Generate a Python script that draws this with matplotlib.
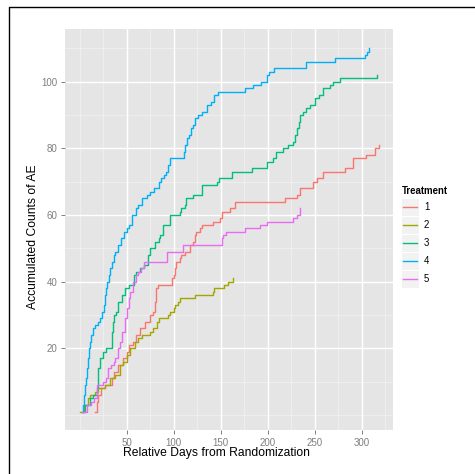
import matplotlib
matplotlib.use("Agg")
import matplotlib.pyplot as plt
from matplotlib.lines import Line2D
from matplotlib.patches import Rectangle

plt.rcParams['font.family'] = ['Liberation Sans', 'DejaVu Sans']

treatments = ["1", "2", "3", "4", "5"]
colors = ["#F8766D", "#A3A500", "#00BF7D", "#00B0F6", "#E76BF3"]

days1 = [16, 18, 20, 23, 27, 34, 37, 41, 46, 50, 53, 57, 60, 64, 69, 75, 78, 80, 81, 83,
         98, 100, 101, 103, 107, 108, 112, 117, 121, 123, 124, 128, 130, 142, 149, 151, 160,
         165, 218, 231, 234, 248, 252, 259, 282, 291, 305, 314, 318]
counts1 = [1, 4, 6, 8, 9, 11, 13, 15, 17, 19, 21, 22, 24, 26, 28, 30, 31, 34, 38, 39,
           41, 42, 44, 46, 47, 48, 49, 51, 52, 54, 55, 56, 57, 58, 59, 61, 62,
           64, 65, 66, 68, 70, 71, 73, 74, 77, 78, 80, 81]

days2 = [0, 5, 9, 11, 16, 20, 27, 32, 38, 43, 46, 50, 54, 59, 62, 66, 75, 78, 82, 84,
         94, 96, 100, 101, 105, 107, 123, 142, 143, 154, 158, 163]
counts2 = [1, 3, 5, 6, 7, 8, 9, 11, 12, 15, 16, 18, 20, 22, 23, 24, 25, 26, 28, 29,
           30, 31, 32, 33, 34, 35, 36, 37, 38, 39, 40, 41]

days3 = [4, 6, 11, 14, 18, 19, 20, 22, 25, 28, 34, 35, 36, 39, 41, 45, 48, 52, 58, 60,
         64, 68, 73, 75, 80, 84, 85, 89, 96, 107, 108, 112, 113, 121, 130, 146, 148, 162,
         183, 199, 206, 209, 216, 222, 227, 229, 231, 233, 234, 238, 241, 245, 250, 255,
         259, 266, 270, 277, 316]
counts3 = [1, 3, 5, 6, 8, 11, 14, 17, 19, 20, 25, 28, 30, 31, 34, 36, 38, 39, 42, 43,
           44, 45, 48, 50, 52, 53, 54, 57, 60, 61, 62, 63, 65, 66, 69, 70, 71, 73,
           74, 76, 77, 79, 80, 81, 82, 84, 86, 88, 90, 91, 92, 93, 95, 96,
           98, 99, 100, 101, 102]

days4 = [3, 4, 5, 6, 7, 8, 9, 10, 11, 12, 14, 16, 19, 22, 24, 26, 27, 28, 29, 31,
         32, 34, 36, 38, 41, 44, 47, 50, 53, 56, 60, 62, 66, 72, 75, 79, 84, 87, 90, 92,
         94, 96, 111, 112, 114, 116, 118, 121, 123, 126, 130, 135, 140, 143, 147, 176,
         184, 193, 199, 201, 207, 241, 272, 304, 306, 308]
counts4 = [1, 3, 6, 9, 11, 14, 17, 20, 22, 24, 26, 27, 28, 29, 31, 33, 36, 38, 40, 42,
           44, 46, 48, 49, 51, 53, 55, 56, 57, 60, 62, 63, 65, 66, 67, 68, 70, 71, 72, 73,
           75, 77, 79, 81, 83, 84, 86, 87, 89, 90, 91, 93, 94, 96, 97, 98,
           99, 100, 102, 103, 104, 106, 107, 108, 109, 110]

days5 = [2, 8, 12, 15, 18, 25, 28, 30, 33, 36, 38, 41, 43, 45, 48, 50, 52, 54, 57, 60,
         62, 65, 68, 93, 110, 151, 153, 156, 176, 192, 199, 227, 231, 234]
counts5 = [1, 3, 4, 5, 9, 10, 11, 14, 15, 16, 17, 20, 22, 25, 29, 32, 35, 37, 40, 42,
           43, 44, 46, 49, 51, 53, 54, 55, 56, 57, 58, 59, 60, 62]

series_days = [days1, days2, days3, days4, days5]
series_counts = [counts1, counts2, counts3, counts4, counts5]

x_major = [50, 100, 150, 200, 250, 300]
x_minor = [0, 25, 75, 125, 175, 225, 275, 325]
y_major = [20, 40, 60, 80, 100]
y_minor = [0, 10, 30, 50, 70, 90, 110]

W, H = 475, 474
fig = plt.figure(figsize=(W / 100, H / 100), dpi=100)
fig.patch.set_facecolor("white")

pl, pr, pt, pb = 65, 392.7, 29.3, 430
ax = fig.add_axes([pl / W, 1 - pb / H, (pr - pl) / W, (pb - pt) / H])
ax.set_facecolor("#E5E5E5")
ax.set_xlim(-15.6, 333.0)
ax.set_ylim(-4.5, 115.7)

for v in x_minor:
    ax.axvline(v, color="#F2F2F2", lw=0.5, zorder=0.5)
for v in y_minor:
    ax.axhline(v, color="#F2F2F2", lw=0.5, zorder=0.5)
for v in x_major:
    ax.axvline(v, color="white", lw=1.0, zorder=0.6)
for v in y_major:
    ax.axhline(v, color="white", lw=1.0, zorder=0.6)

for d, c, col in zip(series_days, series_counts, colors):
    ax.step(d, c, where="post", color=col, lw=1.0, zorder=2)

for s in ax.spines.values():
    s.set_visible(False)
ax.set_xticks(x_major)
ax.set_yticks(y_major)
ax.tick_params(axis="both", colors="#7F7F7F", length=3.1, width=0.7,
               labelsize=7.0, labelcolor="#7F7F7F", pad=2.4)

fig.text(216.7 / W, 1 - 453 / H, "Relative Days from Randomization",
         ha="center", va="center", fontsize=8.7, color="black")
fig.text(33.3 / W, 1 - 236.7 / H, "Accumulated Counts of AE",
         ha="center", va="center", rotation=90, fontsize=8.7, color="black")

# legend
fig.text(401.7 / W, 1 - 190.7 / H, "Treatment", ha="left", va="center",
         fontsize=6.9, fontweight="bold", color="black")
key_w, key_h = 17.3, 17.3
for i, (lab, col) in enumerate(zip(treatments, colors)):
    cy = 207.3 + 18.0 * i
    fig.add_artist(Rectangle(((401.7) / W, 1 - (cy + key_h / 2) / H),
                             key_w / W, key_h / H, transform=fig.transFigure,
                             facecolor="#F2F2F2", edgecolor="none"))
    fig.add_artist(Line2D([(401.7 + 1.7) / W, (401.7 + key_w - 1.7) / W],
                          [1 - cy / H, 1 - cy / H], transform=fig.transFigure,
                          color=col, lw=1.0))
    fig.text(424 / W, 1 - cy / H, lab, ha="left", va="center",
             fontsize=6.9, color="black")

# outer border (partially cut off)
fig.add_artist(Line2D([8.5 / W, 8.5 / W, 1.0], [0.0, 1 - 6.5 / H, 1 - 6.5 / H],
                      transform=fig.transFigure, color="black", lw=1.0))

fig.savefig("out.png", dpi=100)
